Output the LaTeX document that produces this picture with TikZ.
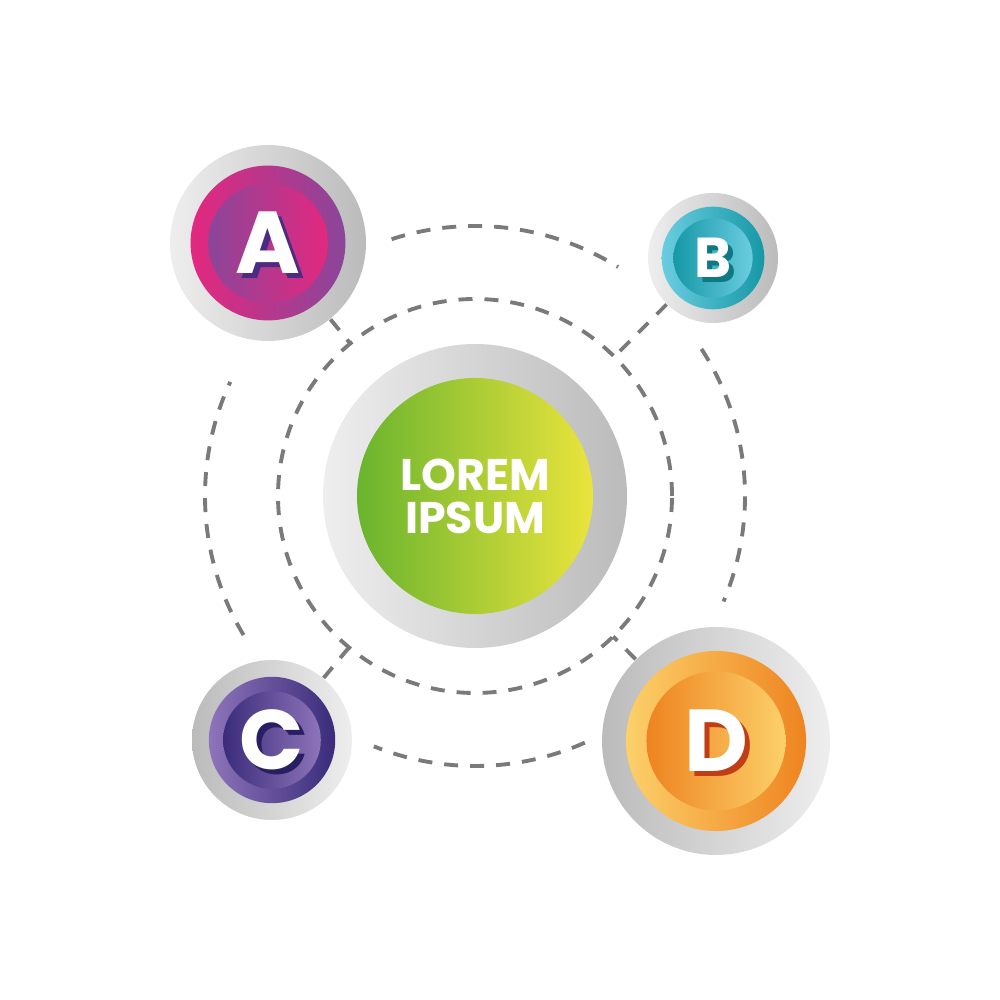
\documentclass[tikz,border=0pt]{standalone}
\usepackage{fontspec}
\newfontfamily\badgefont{Poppins}
\usetikzlibrary{calc}

\definecolor{ringlight}{HTML}{EEEEEE}
\definecolor{ringdark}{HTML}{BBBBBB}
\definecolor{dashgray}{HTML}{7A7A7A}
\definecolor{pinkA}{HTML}{E3287F}
\definecolor{purpleA}{HTML}{8A4699}
\definecolor{shadowA}{HTML}{4B2C82}
\definecolor{lightB}{HTML}{6ACDE0}
\definecolor{darkB}{HTML}{1698A6}
\definecolor{shadowB}{HTML}{0E7883}
\definecolor{lightC}{HTML}{8E74BA}
\definecolor{darkC}{HTML}{3A2C7A}
\definecolor{shadowC}{HTML}{281E62}
\definecolor{lightD}{HTML}{FCD06A}
\definecolor{darkD}{HTML}{EE8420}
\definecolor{shadowD}{HTML}{BF3E16}
\definecolor{greenL}{HTML}{6AB42E}
\definecolor{yellowL}{HTML}{EAE43C}

\tikzset{
  dashline/.style={draw=dashgray, line width=1.1pt, dash pattern=on 1.4mm off 1.2mm},
  disc/.style={circle, inner sep=0pt, minimum size=#1},
  letter/.style={font=\badgefont\bfseries\fontsize{#1}{#1}\selectfont, text=white, inner sep=0pt},
}

\begin{document}
\begin{tikzpicture}
        \useasboundingbox (0,0) rectangle (10,10);
        \node[disc=3.04cm, left color=ringlight, right color=ringdark] (lorem) at (4.75,5.04) {};
        \node[disc=2.36cm, left color=greenL, right color=yellowL] at (lorem) {};
        \node[font=\badgefont\bfseries\fontsize{12.6}{12.2}\selectfont, text=white, align=center] at (lorem) {LOREM\\IPSUM};
        \foreach \n/\x/\y/\r/\ringl/\ringr/\outl/\outr/\sh/\fs in {
            A/2.68/7.57/0.98/ringlight/ringdark/pinkA/purpleA/shadowA/25,
            B/7.13/7.42/0.65/ringlight/ringdark/lightB/darkB/shadowB/16,
            C/2.72/2.60/0.80/ringdark/ringlight/lightC/darkC/shadowC/24,
            D/7.16/2.59/1.14/ringdark/ringlight/lightD/darkD/shadowD/25}{
        \node[disc=2*\r cm, left color=\ringl, right color=\ringr] (\n) at (\x,\y) {};
        \node[disc=1.58*\r cm, left color=\outl, right color=\outr] at (\n) {};
        \node[disc=1.22*\r cm, left color=\outr, right color=\outl] at (\n) {};
        \node[letter=\fs, text=\sh] at ([shift={(0.05,-0.05)}]\n) {\n};
        \node[letter=\fs] at (\n) {\n};
        }
        \draw[dashline] (lorem) circle [radius = 1.97];
        \draw[dashline] ($(lorem)+(108:2.70)$) arc [start angle=108, end angle=58, radius=2.70];
        \draw[dashline] ($(lorem)+(33:2.70)$) arc [start angle=33, end angle=-23, radius=2.70];
        \draw[dashline] ($(lorem)+(-66:2.70)$) arc [start angle=-66, end angle=-112, radius=2.70];
        \draw[dashline] ($(lorem)+(211:2.70)$) arc [start angle=211, end angle=155, radius=2.70];
        \foreach \n in {A,B,C,D}{
        \coordinate (\n-in) at ($(lorem)!1.97cm!(\n)$);
        \draw[dashline] (\n) -- (\n-in);
        }
\end{tikzpicture}
\end{document}
